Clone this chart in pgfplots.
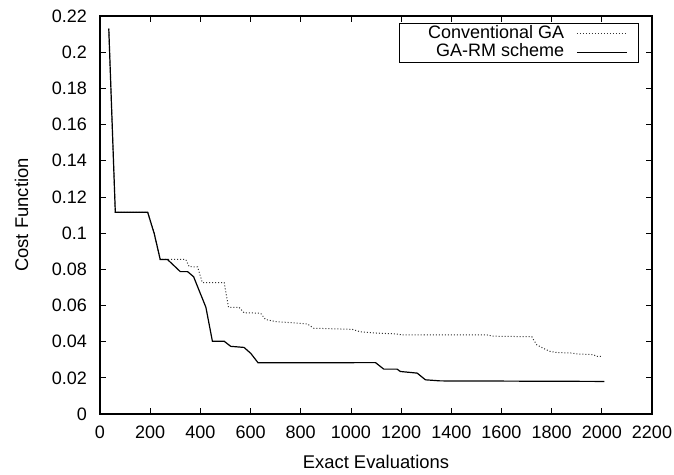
\documentclass[border=0pt]{standalone}
\usepackage{pgfplots}
\pgfplotsset{compat=1.18}
\usepackage{fontspec}
\setmainfont{Liberation Sans}
\begin{document}
\begin{tikzpicture}
\begin{axis}[
  scale only axis,
  width=276pt, height=199pt,
  xmin=0, xmax=2200, ymin=0, ymax=0.22,
  xtick={0,200,...,2200},
  ytick={0,0.02,...,0.22},
  yticklabel style={/pgf/number format/fixed, /pgf/number format/precision=2, xshift=-3pt},
  xticklabel style={yshift=-2.5pt},
  scaled y ticks=false,
  /pgf/number format/assume math mode=true,
  /pgf/number format/1000 sep={},
  tick align=inside,
  major tick length=3pt,
  tick style={black, line width=0.4pt},
  axis line style={black, line width=0.6pt},
  ticklabel style={font=\fontsize{9}{10}\selectfont},
  label style={font=\fontsize{9.2}{10}\selectfont},
  xlabel={Exact Evaluations},
  ylabel={Cost Function},
  xlabel style={at={(axis description cs:0.5,-0.136)}, anchor=base},
  ylabel style={at={(axis description cs:-0.142,0.5)}, anchor=center},
  legend style={at={(0.9765,0.982)}, anchor=north east, draw=black, line width=0.5pt,
    font=\fontsize{9}{10}\selectfont, cells={anchor=east}, inner sep=0.5pt, row sep=0pt,
    nodes={inner sep=0.6pt, text height=6.3pt, text depth=1.7pt},
    /tikz/every odd column/.append style={column sep=5.5pt}},
  legend plot pos=right,
  legend image code/.code={\draw[#1] (0pt,0pt) -- (25pt,0pt); \path (30pt,0pt);},
]
\addplot[black!80, densely dotted, line width=0.5pt] coordinates {
(35,0.213)(61,0.1115)(190,0.1115)(216,0.0998)(240,0.0854)(342,0.0854)(355,0.0815)(389,0.0813)(408,0.0726)(495,0.0726)(512,0.059)(554,0.059)(574,0.056)(640,0.0557)(660,0.0522)(700,0.0511)(826,0.0498)(852,0.0474)(1005,0.0468)(1038,0.0454)(1118,0.0446)(1177,0.0443)(1204,0.0437)(1542,0.0437)(1568,0.043)(1721,0.0427)(1728,0.041)(1741,0.0382)(1767,0.0363)(1794,0.0346)(1821,0.034)(1880,0.0337)(1900,0.0332)(1966,0.0328)(1980,0.0318)(2000,0.0318)
};
\addlegendentry{\hspace*{13pt}Conventional GA}
\addplot[black, line width=0.6pt] coordinates {
(35,0.213)(61,0.1115)(190,0.1115)(216,0.0998)(240,0.0854)(269,0.0854)(320,0.0787)(349,0.0787)(373,0.0759)(395,0.0683)(422,0.059)(448,0.0402)(495,0.0402)(521,0.0374)(574,0.0368)(601,0.0335)(630,0.0283)(1098,0.0284)(1131,0.0248)(1184,0.0248)(1197,0.0235)(1264,0.0226)(1297,0.0189)(1356,0.0183)(2010,0.018)
};
\addlegendentry{GA-RM scheme}
\end{axis}
\pgfresetboundingbox
\path[use as bounding box] ([xshift=-50pt,yshift=-30.5pt]current axis.south west) rectangle ([xshift=11pt,yshift=8pt]current axis.north east);
\end{tikzpicture}
\end{document}
